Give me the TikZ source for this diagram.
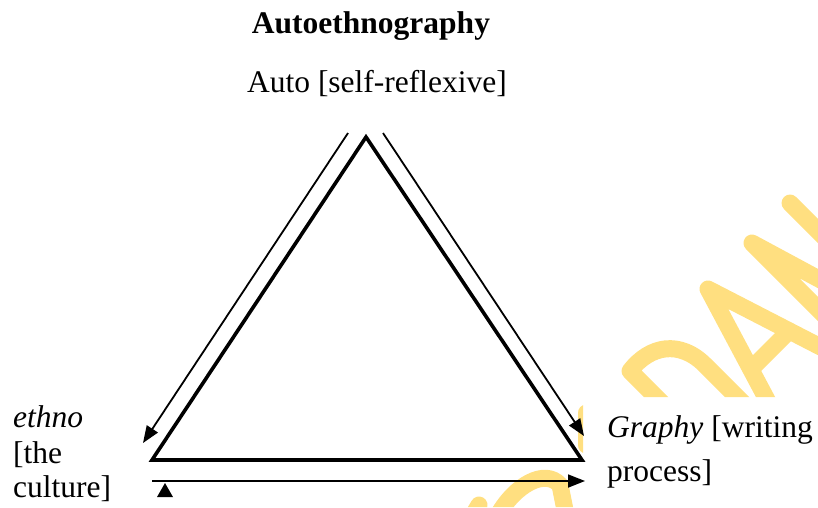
\documentclass[tikz,border=0pt]{standalone}
\usepackage{fontspec}
\setmainfont{Liberation Serif}
\usetikzlibrary{arrows.meta}
\definecolor{wmark}{RGB}{255,223,128}
\begin{document}
\begin{tikzpicture}[x=1pt,y=-1pt,
  lbl/.style={inner sep=0pt,font=\fontsize{31.5}{36}\selectfont},
  edge/.style={line width=3.6pt,line join=miter},
  flow/.style={line width=1.8pt,-{Triangle[length=17pt,width=13pt]}},
  wm/.style={draw=wmark,line width=17pt,line cap=round,line join=round}]
\useasboundingbox (0,0) rectangle (818,507);
% watermark (partly hidden behind the text boxes)
\begin{scope}
\clip (0,0) -- (818,0) -- (818,397) -- (583,397) -- (583,507) -- (0,507) -- cycle;
\draw[wm] (700,441) -- (630,371) .. controls (650,345) and (680,340) .. (705,365) -- (760,420);
\draw[wm] (790,443) -- (708,289) -- (840,357);
\draw[wm] (751,369) -- (789,331);
\draw[wm] (840,331) -- (752,243) -- (882,313);
\draw[wm] (790,203) -- (880,293);
\draw[wm] (498,515) .. controls (515,485) and (545,468) .. (560,485) -- (566,515);
\draw[wm] (586,413) -- (586,445);
\draw[wm] (479,505) -- (470,520);
\end{scope}
% triangle
\coordinate (apex) at (366,137);
\coordinate (bl) at (152,460);
\coordinate (br) at (582,460);
\draw[edge] (apex) -- (bl) -- (br) -- cycle;
% arrows
\coordinate (la1) at (348,133);
\coordinate (la2) at (143,443);
\draw[flow] (la1) -- (la2);
\coordinate (ra1) at (383,133);
\coordinate (ra2) at (584,436);
\draw[flow] (ra1) -- (ra2);
\coordinate (ba1) at (152,481);
\coordinate (ba2) at (585,481);
\draw[flow] (ba1) -- (ba2);
\fill (157,497) -- (165,483) -- (173,497) -- cycle;
% texts
\node[lbl,anchor=base] (title) at (371,33) {\bfseries Autoethnography};
\node[lbl,anchor=base] (auto) at (377,92) {Auto [self-reflexive]};
\node[lbl,anchor=base west] (ethno) at (13,427) {\itshape ethno};
\node[lbl,anchor=base west] (the) at (13,463) {[the};
\node[lbl,anchor=base west] (cult) at (13,497) {culture]};
\node[lbl,anchor=base west] (graphy) at (607,437) {{\itshape Graphy} [writing};
\node[lbl,anchor=base west] (proc) at (607,481) {process]};
\end{tikzpicture}
\end{document}
